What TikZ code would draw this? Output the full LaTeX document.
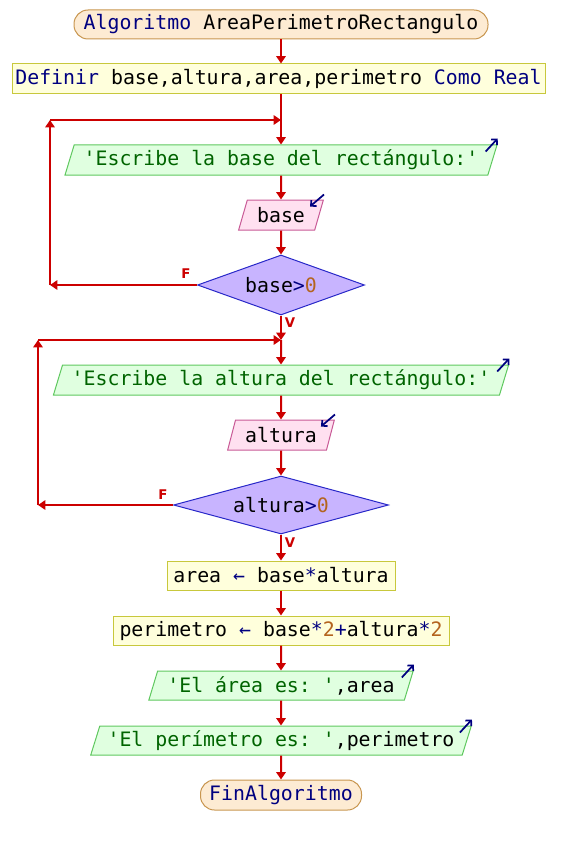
\documentclass[tikz,border=0pt]{standalone}
\usepackage{fontspec}
\setmonofont{DejaVu Sans Mono}
\newfontfamily\flagfont{DejaVu Sans}
\usetikzlibrary{arrows.meta,shapes.geometric,calc}

\newdimen\pu \pu=0.75pt

\definecolor{flowred}{HTML}{CC0000}
\definecolor{termfill}{HTML}{FDEBD3}
\definecolor{termline}{HTML}{C89650}
\definecolor{procfill}{HTML}{FFFFDC}
\definecolor{procline}{HTML}{C8C83C}
\definecolor{outfill}{HTML}{E0FFE0}
\definecolor{outline}{HTML}{5FC85F}
\definecolor{infill}{HTML}{FFE0F0}
\definecolor{inline}{HTML}{C85A96}
\definecolor{decfill}{HTML}{C8B4FF}
\definecolor{decline}{HTML}{2828C8}
\definecolor{kwblue}{HTML}{000080}
\definecolor{strgreen}{HTML}{006400}
\definecolor{numbrown}{HTML}{B4641E}

\newcommand\kw[1]{\textcolor{kwblue}{#1}}
\newcommand\lit[1]{\textcolor{strgreen}{#1}}
\newcommand\nm[1]{\textcolor{numbrown}{#1}}

\begin{document}
\begin{tikzpicture}[x=0.75pt,y=-0.75pt,
  font=\ttfamily\fontsize{14.9}{18}\selectfont,
  flow/.style={draw=flowred, line width=1.5pt, -{Triangle[width=7pt,length=5.5pt]}},
  term/.style={rectangle, draw=termline, fill=termfill, line width=0.75pt,
    rounded corners=10.5pt, inner sep=0pt},
  proc/.style={rectangle, draw=procline, fill=procfill, line width=0.75pt, inner sep=0pt},
  outp/.style={trapezium, trapezium left angle=66.6, trapezium right angle=113.4,
    trapezium stretches, draw=outline, fill=outfill, line width=0.75pt, inner sep=0pt},
  inp/.style={trapezium, trapezium left angle=68.2, trapezium right angle=111.8,
    trapezium stretches, draw=inline, fill=infill, line width=0.75pt, inner sep=0pt},
  cond/.style={diamond, draw=decline, fill=decfill, line width=0.75pt, inner sep=0pt},
  flag/.style={text=flowred, font=\flagfont\bfseries\fontsize{10}{12}\selectfont},
  ioicon/.style={draw=kwblue, line width=1.3pt, -{Straight Barb[length=3pt,width=6pt]}}
]
\useasboundingbox (0,0) rectangle (560,845);

% blocks
\node[term, minimum width=414\pu, minimum height=29\pu] (start) at (281,24.5)
  {\kw{Algoritmo} AreaPerimetroRectangulo};
\node[proc, minimum width=533\pu, minimum height=30\pu] (def) at (278.5,79)
  {\kw{Definir} base,altura,area,perimetro \kw{Como Real}};
\node[outp, minimum width=432\pu, minimum height=30\pu] (out1) at (281,160)
  {\lit{'Escribe la base del rectángulo:'}};
\node[inp, minimum width=85\pu, minimum height=30\pu] (in1) at (281,215) {base};
\node[cond, aspect=2.78, minimum width=167\pu, minimum height=60\pu] (dec1) at (281,285)
  {base\kw{>}\nm{0}};
\node[outp, minimum width=456\pu, minimum height=30\pu] (out2) at (281,380)
  {\lit{'Escribe la altura del rectángulo:'}};
\node[inp, minimum width=107\pu, minimum height=30\pu] (in2) at (281,435) {altura};
\node[cond, aspect=3.7, minimum width=215\pu, minimum height=58\pu] (dec2) at (281,505)
  {altura\kw{>}\nm{0}};
\node[proc, minimum width=228\pu, minimum height=29\pu] (asg1) at (281,575.5)
  {area \kw{←} base\kw{*}altura};
\node[proc, minimum width=336\pu, minimum height=29\pu] (asg2) at (281,630.5)
  {perimetro \kw{←} base\kw{*}\nm{2}\kw{+}altura\kw{*}\nm{2}};
\node[outp, minimum width=265\pu, minimum height=29\pu] (out3) at (281,685.5)
  {\lit{'El área es: '},area};
\node[outp, minimum width=382\pu, minimum height=29\pu] (out4) at (281,740.5)
  {\lit{'El perímetro es: '},perimetro};
\node[term, minimum width=161\pu, minimum height=30\pu] (stop) at (281,795)
  {\kw{FinAlgoritmo}};

% output / input markers
\foreach \o in {out1,out2,out3,out4}
  \draw[ioicon] ($(\o.top right corner)+(-12,7)$) -- ($(\o.top right corner)+(0,-6)$);
\foreach \i in {in1,in2}
  \draw[ioicon] ($(\i.top right corner)+(0,-5)$) -- ($(\i.top right corner)+(-14,7)$);

% loop junctions
\coordinate (j1) at (281,120);
\coordinate (l1t) at (50,120);
\coordinate (l1b) at (50,285);
\coordinate (j2) at (281,340);
\coordinate (l2t) at (38,340);
\coordinate (l2b) at (38,505);

% main flow
\draw[flow] (start.south) -- (start.south |- def.north);
\draw[flow] (out1.north |- def.south) -- (out1.north);
\draw[flow] (out1.south) -- (in1.north);
\draw[flow] (in1.south) -- (dec1.north);
\draw[flow] (dec1.south) -- (j2);
\draw[flow] (j2) -- (out2.north);
\draw[flow] (out2.south) -- (in2.north);
\draw[flow] (in2.south) -- (dec2.north);
\draw[flow] (dec2.south) -- (asg1.north);
\draw[flow] (asg1.south) -- (asg2.north);
\draw[flow] (asg2.south) -- (out3.north);
\draw[flow] (out3.south) -- (out4.north);
\draw[flow] (out4.south) -- (stop.north);

% first repeat loop
\draw[flow] (dec1.west) -- (l1b);
\draw[flow] (l1b) -- (l1t);
\draw[flow] (l1t) -- (j1);

% second repeat loop
\draw[flow] (dec2.west) -- (l2b);
\draw[flow] (l2b) -- (l2t);
\draw[flow] (l2t) -- (j2);

% branch labels
\node[flag] (f1) at (186,274) {F};
\node[flag] (v1) at (290,323) {V};
\node[flag] (f2) at (163,495) {F};
\node[flag] (v2) at (290,543) {V};
\end{tikzpicture}
\end{document}
